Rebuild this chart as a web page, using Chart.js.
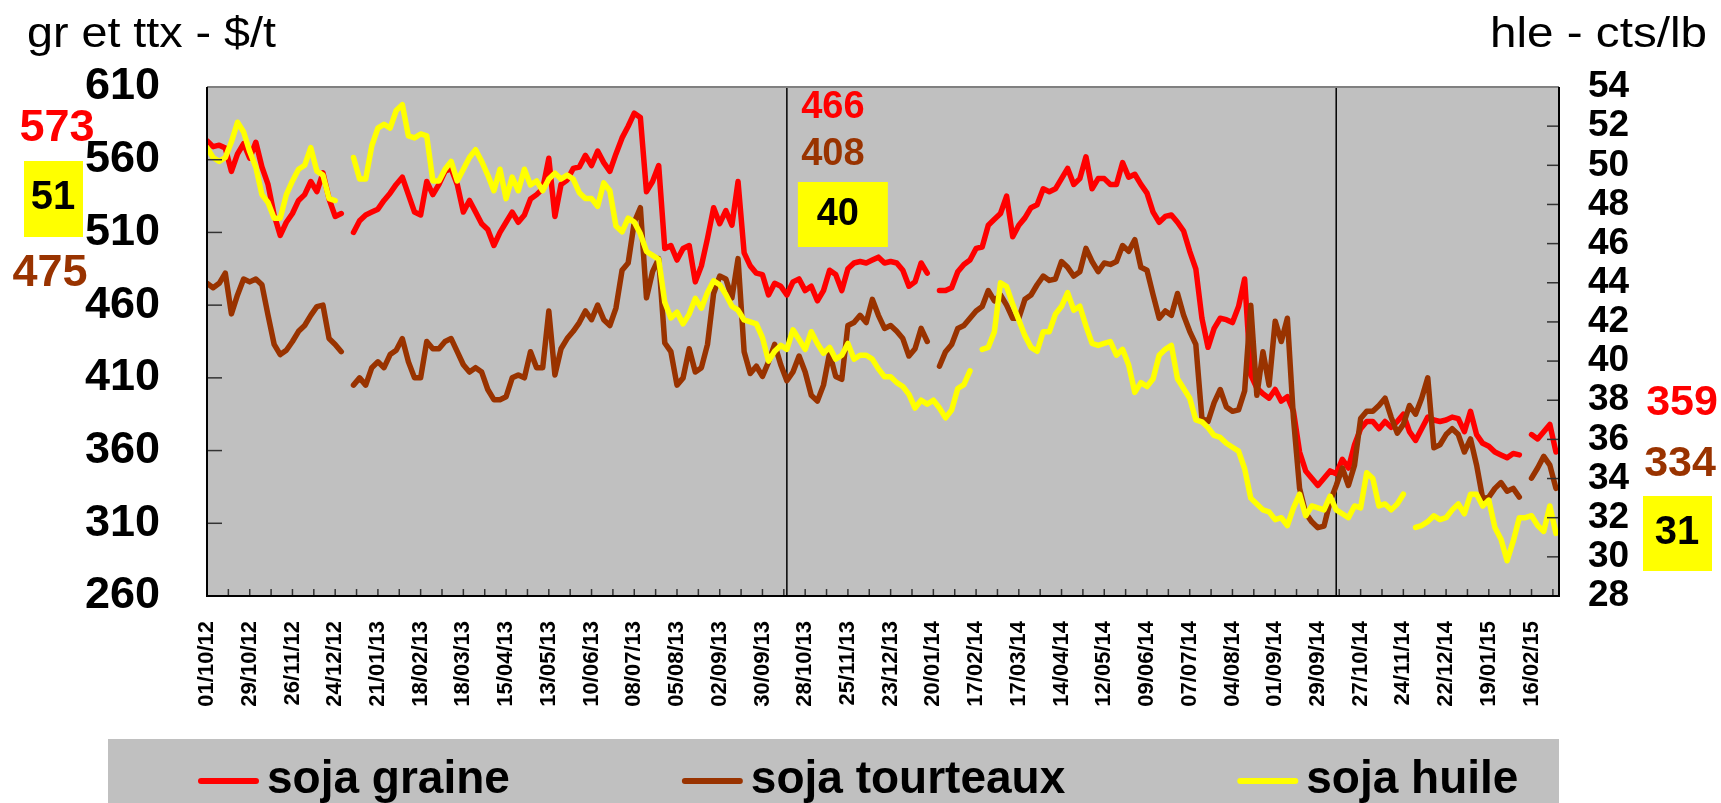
<!DOCTYPE html>
<html>
<head>
<meta charset="utf-8">
<title>soja graine, tourteaux, huile</title>
<script src="https://cdn.jsdelivr.net/npm/chart.js@4.4.1/dist/chart.umd.min.js"></script>
<style>
  html, body { margin: 0; padding: 0; background: #fff; }
</style>
</head>
<body>
<canvas id="chart" width="1721" height="803"></canvas>
<script>
const FONT = "'Liberation Sans', Arial, sans-serif";

// day 0 = 01/10/12, one value every 4 days
const START = Date.UTC(2012, 9, 1);
const STEP_DAYS = 4;
const AXIS_END_DAY = 886;
const markerDays = [380, 740];

// $/t
const soyGrain = [
  573, 569, 570, 568, 552, 564, 571, 561, 572, 555, 543, 522, 508, 517, 523, 532, 536, 545, 538, 551,
  533, 521, 523, null, 510, 518, 522, 524, 526, 532, 537, 543, 548, 536, 524, 522, 545, 536, 543, 552,
  554, 543, 524, 532, 524, 516, 512, 501, 510, 517, 524, 517, 522, 533, 536, 540, 561, 521, 543, 546,
  554, 555, 563, 556, 566, 558, 552, 564, 575, 583, 592, 589, 538, 545, 556, 499, 501, 491, 499, 501,
  476, 487, 506, 527, 516, 525, 515, 545, 496, 487, 482, 481, 467, 475, 473, 467, 476, 478, 470, 473,
  463, 470, 484, 481, 470, 485, 489, 490, 489, 491, 493, 489, 490, 489, 484, 473, 476, 489, 482, null,
  470, 470, 472, 483, 488, 491, 499, 500, 515, 519, 523, 535, 507, 515, 520, 527, 529, 540, 538, 540,
  547, 554, 543, 547, 562, 540, 547, 547, 543, 543, 558, 548, 550, 543, 537, 524, 517, 521, 522, 517,
  511, 497, 485, 451, 431, 444, 451, 450, 448, 459, 478, 412, 403, 399, 396, 402, 394, 397, 387, 359,
  346, 341, 336, 341, 346, 344, 354, 348, 364, 375, 380, 380, 375, 380, 376, 380, 385, 373, 367, 375,
  383, 381, 380, 381, 383, 382, 373, 387, 371, 365, 363, 359, 357, 355, 358, 357, null, 371, 368, 373, 378, 359
];

// $/t
const soyMeal = [
  475, 472, 475, 482, 454, 467, 478, 476, 478, 474, 453, 433, 426, 429, 435, 442, 446, 453, 459, 460,
  437, 433, 428, null, 405, 410, 405, 417, 421, 417, 426, 429, 437, 421, 410, 410, 435, 430, 430, 435,
  437, 428, 419, 414, 417, 414, 402, 395, 395, 397, 410, 412, 410, 428, 417, 417, 456, 412, 430, 437,
  442, 448, 456, 450, 460, 450, 446, 458, 484, 489, 517, 527, 465, 483, 492, 434, 428, 405, 410, 430,
  414, 417, 433, 468, 480, 478, 465, 492, 428, 413, 418, 411, 421, 433, 419, 408, 414, 425, 414, 398,
  394, 405, 427, 411, 409, 446, 448, 453, 448, 464, 453, 444, 446, 442, 437, 425, 430, 444, 435, null,
  418, 428, 433, 444, 446, 451, 456, 459, 470, 463, 467, 460, 451, 451, 464, 467, 474, 480, 477, 478,
  490, 486, 480, 483, 499, 490, 483, 489, 488, 490, 501, 497, 505, 486, 484, 467, 451, 456, 453, 468,
  453, 442, 433, 382, 380, 393, 402, 390, 387, 388, 401, 460, 398, 428, 405, 449, 435, 451, 382, 334,
  317, 311, 307, 308, 325, 336, 348, 336, 350, 382, 387, 387, 391, 396, 383, 372, 378, 391, 385, 396,
  410, 362, 364, 371, 375, 371, 359, 368, 350, 327, 328, 334, 338, 332, 334, 328, null, 341, 348, 356, 350, 334
];

// cts/lb
const soyOil = [
  50.9, 50.4, 50.2, 50.4, 51.2, 52.2, 51.7, 50.7, 49.9, 48.5, 48.1, 47.3, 47.3, 48.5, 49.2, 49.8, 50.0, 50.9, 49.7, 49.5,
  48.3, 48.2, null, null, 50.4, 49.3, 49.3, 51.0, 51.9, 52.1, 51.9, 52.8, 53.1, 51.5, 51.4, 51.6, 51.5, 49.2, 49.2, 49.8,
  50.2, 49.2, 49.8, 50.4, 50.8, 50.2, 49.5, 48.7, 49.8, 48.3, 49.4, 48.7, 49.8, 49.0, 49.2, 48.7, 49.3, 49.6, 49.3, 49.5,
  49.3, 48.6, 48.3, 48.3, 47.9, 49.1, 48.7, 46.9, 46.6, 47.3, 47.1, 46.5, 45.6, 45.4, 45.2, 43.0, 42.2, 42.5, 41.9, 42.4,
  43.2, 42.7, 43.5, 44.1, 43.9, 43.4, 42.8, 42.6, 42.1, 42.0, 41.9, 41.2, 40.0, 40.5, 40.8, 40.6, 41.6, 41.1, 40.6, 41.5,
  40.9, 40.4, 40.7, 40.1, 40.3, 40.9, 40.1, 40.3, 40.3, 40.1, 39.6, 39.2, 39.2, 38.9, 38.7, 38.3, 37.6, 38.0, 37.8, 38.0,
  37.6, 37.1, 37.5, 38.6, 38.8, 39.5, null, 40.6, 40.7, 41.5, 44.0, 43.8, 42.9, 42.1, 41.3, 40.7, 40.5, 41.5, 41.5, 42.4,
  42.8, 43.5, 42.6, 42.8, 41.8, 40.9, 40.8, 40.9, 41.0, 40.3, 40.6, 39.8, 38.4, 38.9, 38.7, 39.1, 40.3, 40.6, 40.8, 39.1,
  38.6, 38.1, 37.0, 36.9, 36.6, 36.2, 36.1, 35.8, 35.6, 35.4, 34.5, 33.0, 32.7, 32.4, 32.3, 31.9, 32.0, 31.6, 32.5, 33.2,
  32.1, 32.6, 32.5, 32.4, 33.1, 32.4, 32.2, 32.0, 32.6, 32.5, 34.3, 34.0, 32.6, 32.7, 32.4, 32.7, 33.2, null, 31.5, 31.6,
  31.8, 32.1, 31.9, 32.0, 32.4, 32.7, 32.2, 33.2, 33.2, 32.6, 32.9, 31.5, 30.9, 29.8, 30.8, 32.0, 32.0, 32.1, 31.6, 31.3, 32.6, 31.2
];

// values written beside the chart: start, first marker, last
const grainTags = [573, 466, 359];
const mealTags = [475, 408, 334];
const oilTags = [51, 40, 31];

function dayLabel (day) {
  const d = new Date(START + day * 86400000);
  const pad = n => String(n).padStart(2, '0');
  return pad(d.getUTCDate()) + '/' + pad(d.getUTCMonth() + 1) + '/' + pad(d.getUTCFullYear() % 100);
}

function toPoints (values) {
  return values.map((v, i) => ({ x: i * STEP_DAYS, y: v }));
}

function stretchedText (ctx, text, x, y, width, align) {
  const natural = ctx.measureText(text).width;
  ctx.save();
  ctx.translate(x, y);
  ctx.scale(width / natural, 1);
  ctx.textAlign = align;
  ctx.textBaseline = 'alphabetic';
  ctx.fillText(text, 0, 0);
  ctx.restore();
}

function tag (ctx, text, x, y, color, size) {
  ctx.font = 'bold ' + size + 'px ' + FONT;
  ctx.fillStyle = color;
  ctx.textAlign = 'center';
  ctx.textBaseline = 'middle';
  ctx.fillText(String(text), x, y);
}

function boxTag (ctx, text, left, top, w, h, x, y, size) {
  ctx.fillStyle = '#FFFF00';
  ctx.fillRect(left, top, w, h);
  tag(ctx, text, x, y, '#000', size);
}

function line (ctx, x1, y1, x2, y2) {
  ctx.beginPath();
  ctx.moveTo(x1, y1);
  ctx.lineTo(x2, y2);
  ctx.stroke();
}

const decor = {
  id: 'decor',
  beforeDraw (chart) {
    const { ctx, chartArea: a } = chart;
    ctx.save();
    ctx.fillStyle = '#C0C0C0';
    ctx.fillRect(a.left, a.top, a.right - a.left, a.bottom - a.top);
    ctx.restore();
  },
  beforeDatasetsDraw (chart) {
    const { ctx, chartArea: a, scales: { x } } = chart;
    ctx.save();
    ctx.strokeStyle = '#000';
    ctx.lineWidth = 1.5;
    markerDays.forEach(day => {
      const px = x.getPixelForValue(day);
      line(ctx, px, a.top, px, a.bottom);
    });
    ctx.restore();
  },
  afterDatasetsDraw (chart) {
    const { ctx, chartArea: a, scales: { x, y, y2 } } = chart;
    ctx.save();
    ctx.strokeStyle = '#333';
    ctx.lineWidth = 1.5;
    y.ticks.forEach(t => { const py = y.getPixelForValue(t.value); line(ctx, a.left, py, a.left + 15, py); });
    y2.ticks.forEach(t => { const py = y2.getPixelForValue(t.value); line(ctx, a.right - 12, py, a.right, py); });
    x.ticks.forEach(t => { const px = x.getPixelForValue(t.value); line(ctx, px, a.bottom, px, a.bottom - 7); });

    ctx.lineWidth = 2;
    ctx.strokeStyle = '#808080';
    line(ctx, a.left, a.top, a.right, a.top);
    ctx.strokeStyle = '#000';
    ctx.beginPath();
    ctx.moveTo(a.left, a.top);
    ctx.lineTo(a.left, a.bottom);
    ctx.lineTo(a.right, a.bottom);
    ctx.lineTo(a.right, a.top);
    ctx.stroke();
    ctx.restore();
  },
  afterDraw (chart) {
    const { ctx, chartArea: a, scales: { x } } = chart;
    ctx.save();

    // axis units
    ctx.fillStyle = '#000';
    ctx.font = '42px ' + FONT;
    stretchedText(ctx, 'gr et ttx - $/t', 27, 47, 249, 'left');
    stretchedText(ctx, 'hle - cts/lb', 1707, 47, 217, 'right');

    // start values
    tag(ctx, grainTags[0], 57, 129, '#FF0000', 45);
    boxTag(ctx, oilTags[0], 24, 161, 59, 76, 53, 198, 40);
    tag(ctx, mealTags[0], 50, 274, '#993300', 45);

    // values at the first marker
    const mx = x.getPixelForValue(markerDays[0]);
    tag(ctx, grainTags[1], mx + 46, 108, '#FF0000', 38);
    tag(ctx, mealTags[1], mx + 46, 155, '#993300', 38);
    boxTag(ctx, oilTags[1], mx + 11, 182, 90, 65, mx + 51, 215, 38);

    // last values
    tag(ctx, grainTags[2], 1682, 403, '#FF0000', 43);
    tag(ctx, mealTags[2], 1680, 464, '#993300', 43);
    boxTag(ctx, oilTags[2], 1643, 496, 69, 75, 1677, 533, 40);

    // legend
    const top = x.bottom + 1;
    ctx.fillStyle = '#C0C0C0';
    ctx.fillRect(108, top, a.right - 108, chart.height - top);
    ctx.font = 'bold 46px ' + FONT;
    ctx.textAlign = 'left';
    ctx.textBaseline = 'alphabetic';
    ctx.lineCap = 'round';
    let lx = 198;
    chart.data.datasets.forEach(ds => {
      ctx.strokeStyle = ds.borderColor;
      ctx.lineWidth = 6;
      line(ctx, lx + 3, top + 42, lx + 58, top + 42);
      ctx.fillStyle = '#000';
      ctx.fillText(ds.label, lx + 69, top + 54);
      lx += 69 + ctx.measureText(ds.label).width + 172;
    });
    ctx.restore();
  }
};

const lineStyle = { borderWidth: 5.5, pointRadius: 0, pointHoverRadius: 0, tension: 0, spanGaps: false, borderJoinStyle: 'round', borderCapStyle: 'round', fill: false };

// eslint-disable-next-line no-undef
const chart = new Chart('chart', {
  type: 'line',
  data: {
    datasets: [
      { ...lineStyle, label: 'soja graine', data: toPoints(soyGrain), borderColor: '#FF0000', yAxisID: 'y', order: 3 },
      { ...lineStyle, label: 'soja tourteaux', data: toPoints(soyMeal), borderColor: '#993300', yAxisID: 'y', order: 2 },
      { ...lineStyle, label: 'soja huile', data: toPoints(soyOil), borderColor: '#FFFF00', yAxisID: 'y2', order: 1 }
    ]
  },
  options: {
    responsive: false,
    animation: false,
    devicePixelRatio: 1,
    layout: { padding: { top: 87, bottom: 65, left: 0, right: 0 } },
    plugins: {
      legend: { display: false },
      tooltip: { enabled: false }
    },
    scales: {
      x: {
        type: 'linear',
        min: 0,
        max: AXIS_END_DAY,
        bounds: 'data',
        grid: { display: false },
        border: { display: false },
        ticks: {
          stepSize: 14,
          autoSkip: false,
          includeBounds: false,
          minRotation: 90,
          maxRotation: 90,
          padding: 17,
          color: '#000',
          font: { family: FONT, size: 22, weight: 'bold' },
          callback: value => (value % 28 === 0 ? dayLabel(value) : '')
        },
        afterFit: scale => { scale.height = 142; }
      },
      y: {
        position: 'left',
        min: 260,
        max: 610,
        grid: { display: false },
        border: { display: false },
        ticks: { stepSize: 50, autoSkip: false, padding: 39, color: '#000', font: { family: FONT, size: 45, weight: 'bold' } },
        afterFit: scale => { scale.width = 207; }
      },
      y2: {
        position: 'right',
        min: 28,
        max: 54,
        grid: { display: false },
        border: { display: false },
        ticks: { stepSize: 2, autoSkip: false, padding: 21, color: '#000', font: { family: FONT, size: 37, weight: 'bold' } },
        afterFit: scale => { scale.width = 162; }
      }
    }
  },
  plugins: [decor]
});
</script>
</body>
</html>
